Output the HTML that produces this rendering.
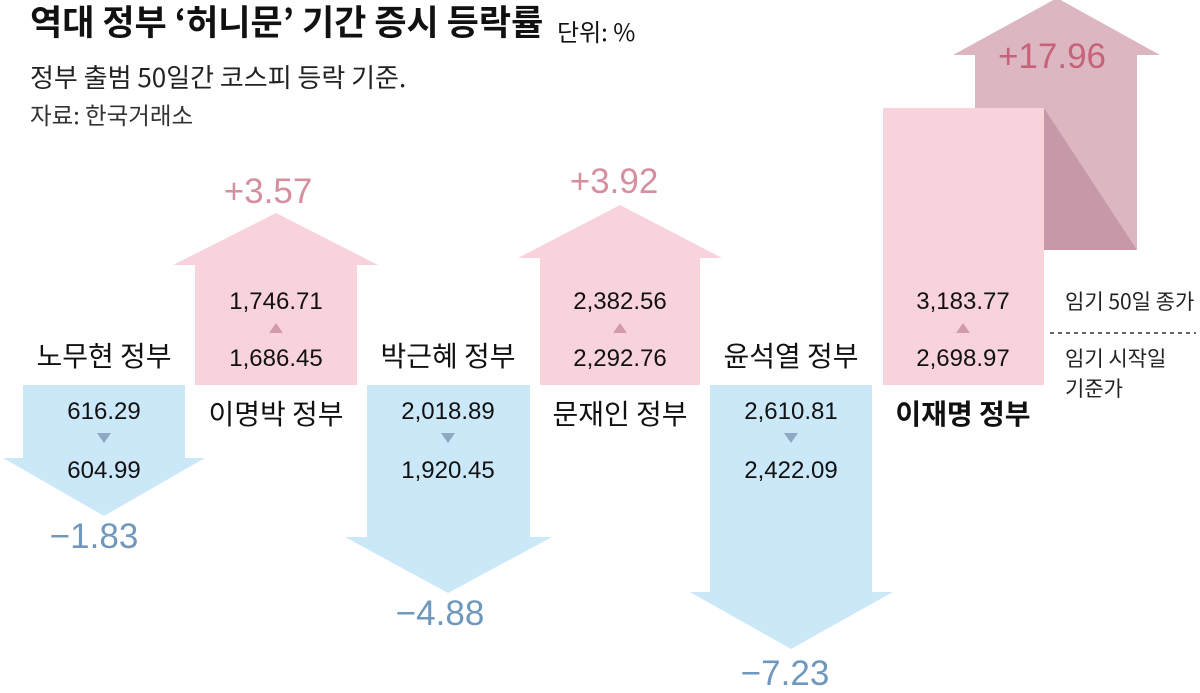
<!DOCTYPE html>
<html><head><meta charset="utf-8"><style>
body{margin:0;background:#fff;}
svg{display:block;font-family:"Liberation Sans","Noto Sans CJK KR",sans-serif;}
</style></head><body>
<svg width="1200" height="693" viewBox="0 0 1200 693">
<g font-family="'Noto Sans CJK KR','Liberation Sans',sans-serif">
<text x="30" y="35" font-size="35" font-weight="bold" fill="#111">역대 정부 ‘허니문’ 기간 증시 등락률</text>
<text x="557" y="41" font-size="24" fill="#111">단위: %</text>
<text x="30" y="87" font-size="26" fill="#222">정부 출범 50일간 코스피 등락 기준.</text>
<text x="30" y="124" font-size="23.5" fill="#333">자료: 한국거래소</text>
</g>
<polygon points="23,385 185,385 185,458 205,458 104,516 3,458 23,458" fill="#cbe8f9"/>
<polygon points="195,385 357,385 357,265 378,265 276,213 173,265 195,265" fill="#f9d3dc"/>
<polygon points="367,385 530,385 530,537 552,537 448,593 345,537 367,537" fill="#cbe8f9"/>
<polygon points="540,385 700,385 700,258 722,258 620,205 518,258 540,258" fill="#f9d3dc"/>
<polygon points="710,385 872,385 872,592 893,592 791,649 690,592 710,592" fill="#cbe8f9"/>
<polygon points="975,250 1137,250 1137,55 1160,55 1057,-2 953,55 975,55" fill="#dcb7c2"/>
<polygon points="1044,108 1137,250 1044,250" fill="#c799a8"/>
<rect x="883" y="108" width="161" height="277" fill="#f9d3dc"/>

<g font-size="28" fill="#111" text-anchor="middle" font-family="'Noto Sans CJK KR','Liberation Sans',sans-serif">
<text x="104" y="366">노무현 정부</text>
<text x="276" y="424">이명박 정부</text>
<text x="448" y="366">박근혜 정부</text>
<text x="620" y="424">문재인 정부</text>
<text x="791" y="366">윤석열 정부</text>
<text x="963" y="424" font-weight="bold">이재명 정부</text>
</g>
<g font-size="24" fill="#111" text-anchor="middle">
<text x="104" y="419">616.29</text>
<text x="104" y="478">604.99</text>
<text x="276" y="309">1,746.71</text>
<text x="276" y="366">1,686.45</text>
<text x="448" y="419">2,018.89</text>
<text x="448" y="478">1,920.45</text>
<text x="620" y="309">2,382.56</text>
<text x="620" y="366">2,292.76</text>
<text x="791" y="419">2,610.81</text>
<text x="791" y="478">2,422.09</text>
<text x="963" y="309">3,183.77</text>
<text x="963" y="366">2,698.97</text>
</g>
<g fill="#8fa7c0">
<polygon points="97,433 111,433 104,443"/>
<polygon points="441,433 455,433 448,443"/>
<polygon points="784,433 798,433 791,443"/>
</g>
<g fill="#d39aa9">
<polygon points="269,333 283,333 276,323"/>
<polygon points="613,333 627,333 620,323"/>
<polygon points="956,333 970,333 963,323"/>
</g>
<g font-size="35" text-anchor="middle">
<text x="94" y="548" fill="#6f98bc">−1.83</text>
<text x="440" y="625" fill="#6f98bc">−4.88</text>
<text x="785" y="685" fill="#6f98bc">−7.23</text>
<text x="268" y="203" fill="#d58f9f">+3.57</text>
<text x="614" y="193" fill="#d58f9f">+3.92</text>
<text x="1052" y="68" fill="#c6627a">+17.96</text>
</g>
<g font-size="21" fill="#222" font-family="'Noto Sans CJK KR','Liberation Sans',sans-serif">
<text x="1065" y="309">임기 50일 종가</text>
<text x="1065" y="366">임기 시작일</text>
<text x="1065" y="396">기준가</text>
</g>
<line x1="1050" y1="333" x2="1196" y2="333" stroke="#333" stroke-width="1.5" stroke-dasharray="4,4"/>
</svg>
</body></html>
